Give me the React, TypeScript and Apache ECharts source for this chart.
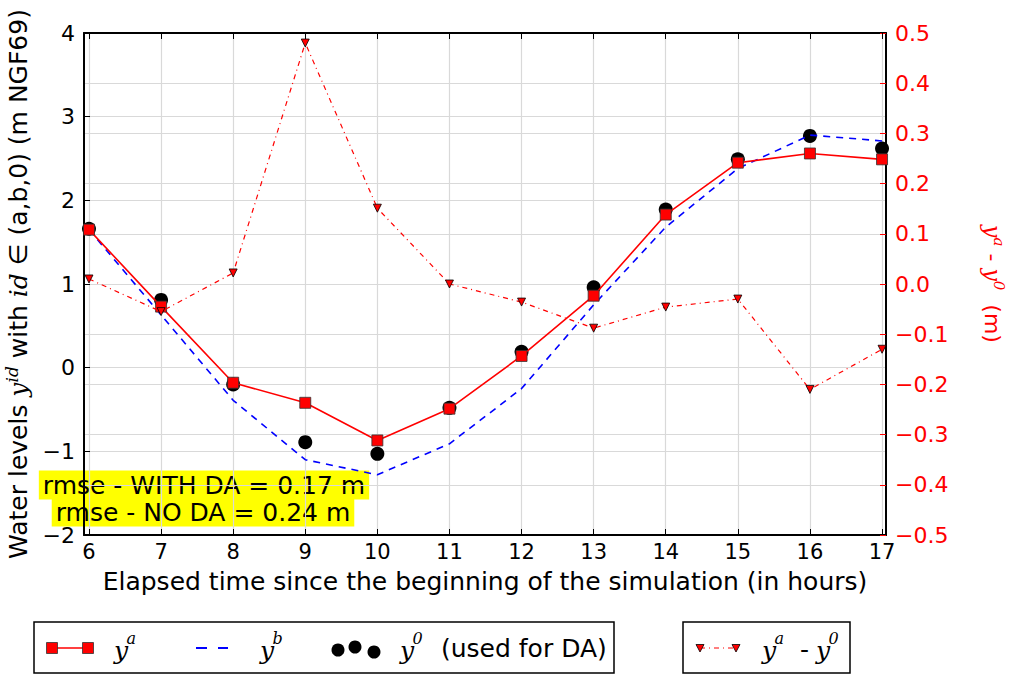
import React, { useEffect, useRef } from "react";
import * as echarts from "echarts";

const hours = [6, 7, 8, 9, 10, 11, 12, 13, 14, 15, 16, 17];
const yA = [1.65, 0.73, -0.18, -0.42, -0.87, -0.49, 0.14, 0.86, 1.83, 2.45, 2.56, 2.49];
const yB = [1.65, 0.63, -0.39, -1.1, -1.28, -0.91, -0.25, 0.75, 1.68, 2.38, 2.78, 2.71];
const y0 = [1.66, 0.81, -0.2, -0.89, -1.03, -0.48, 0.19, 0.96, 1.89, 2.49, 2.77, 2.62];
const diff = [0.01, -0.055, 0.022, 0.48, 0.151, 0.0, -0.036, -0.088, -0.046, -0.03, -0.21, -0.13];

const SANS = "DejaVu Sans";
const SERIF = "DejaVu Serif";
const GRIDC = "#d9d9d9";

const minus = (s: string) => s.replace("-", "\u2212");

function mathLabel(x: number, y: number, base: string, sup: string, color: string, size: number) {
  return [
    {
      type: "text",
      x,
      y,
      style: { text: base, fill: color, font: `italic ${size}px ${SERIF}`, textVerticalAlign: "middle", verticalAlign: "middle" },
    },
    {
      type: "text",
      x: x + size * 0.5,
      y: y - size * 0.45,
      style: { text: sup, fill: color, font: `italic ${Math.round(size * 0.65)}px ${SERIF}`, textVerticalAlign: "middle", verticalAlign: "middle" },
    },
  ];
}

export default function App() {
  const ref = useRef<HTMLDivElement>(null);
  useEffect(() => {
    if (!ref.current) return;
    const chart = echarts.init(ref.current, undefined, { renderer: "svg" });
    const tri = (cx: number, cy: number) => ({
      type: "polygon",
      shape: { points: [[cx - 4, cy - 3.5], [cx + 4, cy - 3.5], [cx, cy + 4]] },
      style: { fill: "#ff0000", stroke: "#000", lineWidth: 0.8 },
    });
    const graphic: any[] = [
      {
        type: "text",
        x: 204,
        y: 485,
        z: -10,
        style: {
          text: "rmse - WITH DA = 0.17 m",
          font: `25px ${SANS}`,
          fill: "#000",
          textAlign: "center",
          align: "center",
          textVerticalAlign: "middle",
          verticalAlign: "middle",
          backgroundColor: "#ffff00",
          padding: [3, 4, 1, 4],
        },
      },
      {
        type: "text",
        x: 203,
        y: 512,
        z: -11,
        style: {
          text: "rmse - NO DA = 0.24 m",
          font: `25px ${SANS}`,
          fill: "#000",
          textAlign: "center",
          align: "center",
          textVerticalAlign: "middle",
          verticalAlign: "middle",
          backgroundColor: "#ffff00",
          padding: [1, 4, 3, 4],
        },
      },
      // legend box 1
      { type: "rect", shape: { x: 34, y: 622, width: 580, height: 51 }, style: { fill: "#fff", stroke: "#000", lineWidth: 1.5 } },
      { type: "line", shape: { x1: 52, y1: 648, x2: 88, y2: 648 }, style: { stroke: "#ff0000", lineWidth: 1.5 } },
      { type: "rect", shape: { x: 46.5, y: 642.5, width: 11, height: 11 }, style: { fill: "#ff0000", stroke: "#333", lineWidth: 0.8 } },
      { type: "rect", shape: { x: 82.5, y: 642.5, width: 11, height: 11 }, style: { fill: "#ff0000", stroke: "#333", lineWidth: 0.8 } },
      ...mathLabel(114, 650, "y", "a", "#000", 25),
      { type: "line", shape: { x1: 196, y1: 648, x2: 207, y2: 648 }, style: { stroke: "#0000ff", lineWidth: 2 } },
      { type: "line", shape: { x1: 218, y1: 648, x2: 228, y2: 648 }, style: { stroke: "#0000ff", lineWidth: 2 } },
      ...mathLabel(260, 650, "y", "b", "#000", 25),
      { type: "circle", shape: { cx: 338, cy: 650, r: 6.5 }, style: { fill: "#000" } },
      { type: "circle", shape: { cx: 355, cy: 647, r: 6.5 }, style: { fill: "#000" } },
      { type: "circle", shape: { cx: 374, cy: 652, r: 6.5 }, style: { fill: "#000" } },
      ...mathLabel(400, 650, "y", "0", "#000", 25),
      {
        type: "text",
        x: 441,
        y: 648,
        style: { text: "(used for DA)", font: `25px ${SANS}`, fill: "#000", textVerticalAlign: "middle", verticalAlign: "middle" },
      },
      // legend box 2
      { type: "rect", shape: { x: 683, y: 622, width: 167, height: 51 }, style: { fill: "#fff", stroke: "#000", lineWidth: 1.5 } },
      { type: "line", shape: { x1: 700, y1: 648, x2: 736, y2: 648 }, style: { stroke: "#ff0000", lineWidth: 1, lineDash: [5, 4, 1, 4] } },
      tri(700, 648),
      tri(736, 648),
      ...mathLabel(762, 650, "y", "a", "#000", 25),
      {
        type: "text",
        x: 800,
        y: 649,
        style: { text: "-", font: `25px ${SANS}`, fill: "#000", textVerticalAlign: "middle", verticalAlign: "middle" },
      },
      ...mathLabel(816, 650, "y", "0", "#000", 25),
    ];

    const xBase = {
      type: "value",
      min: 5.931,
      max: 17.055,
    };

    const richFor = (color: string, size: number) => ({
      t: { fontFamily: SANS, fontSize: size, color, lineHeight: size + 6 },
      m: { fontFamily: SERIF, fontStyle: "italic", fontSize: size, color, lineHeight: size + 6 },
      s: { fontFamily: SERIF, fontStyle: "italic", fontSize: Math.round(size * 0.66), color, verticalAlign: "top", lineHeight: Math.round(size * 0.7) },
    });

    const option: any = {
      animation: false,
      backgroundColor: "#fff",
      grid: { left: 84, right: 123, top: 33, bottom: 140, containLabel: false, outerBoundsMode: "none" },
      xAxis: [
        {
          ...xBase,
          position: "bottom",
          name: "Elapsed time since the beginning of the simulation (in hours)",
          nameLocation: "middle",
          nameGap: 34,
          nameTextStyle: { fontFamily: SANS, fontSize: 25, color: "#000" },
          axisLine: { onZero: false, lineStyle: { color: "#000", width: 2 } },
          axisTick: { inside: true, length: 6, customValues: hours, lineStyle: { color: "#000", width: 1 } },
          axisLabel: { customValues: hours, fontFamily: SANS, fontSize: 21, color: "#000", margin: 6 },
          splitLine: { show: true, lineStyle: { color: GRIDC, width: 1.2 } },
        },
        {
          ...xBase,
          position: "top",
          axisLine: { onZero: false, lineStyle: { color: "#000", width: 2 } },
          axisTick: { inside: true, length: 6, customValues: hours, lineStyle: { color: "#000", width: 1 } },
          axisLabel: { show: false },
          splitLine: { show: false },
        },
      ],
      yAxis: [
        {
          type: "value",
          position: "left",
          min: -2,
          max: 4,
          interval: 1,
          name: "{t|Water levels }{m|y}{s|id}{t| with }{m|id}{t| \u2208 (a,b,0) (m NGF69)}",
          nameLocation: "middle",
          nameGap: 50,
          nameTextStyle: { color: "#000", fontFamily: SANS, fontSize: 25, rich: richFor("#000", 25) },
          axisLine: { show: true, onZero: false, lineStyle: { color: "#000", width: 2 } },
          axisTick: { show: true, inside: true, length: 6, lineStyle: { color: "#000", width: 1 } },
          axisLabel: {
            fontFamily: SANS,
            fontSize: 22,
            color: "#000",
            margin: 9,
            formatter: (v: number) => minus(String(Math.round(v))),
          },
          splitLine: { show: true, lineStyle: { color: GRIDC, width: 1.2 } },
        },
        {
          type: "value",
          position: "right",
          min: -0.5,
          max: 0.5,
          interval: 0.1,
          name: "{m|y}{s|a}{t| - }{m|y}{s|0}{t|  (m)}",
          nameLocation: "middle",
          nameGap: 92,
          nameRotate: -90,
          nameTextStyle: { color: "#ff0000", fontFamily: SANS, fontSize: 22, rich: richFor("#ff0000", 22) },
          axisLine: { show: true, onZero: false, lineStyle: { color: "#000", width: 2 } },
          axisTick: { show: true, inside: true, length: 6, lineStyle: { color: "#ff0000", width: 1 } },
          axisLabel: {
            fontFamily: SANS,
            fontSize: 22,
            color: "#ff0000",
            margin: 9,
            formatter: (v: number) => minus(v.toFixed(1)),
          },
          splitLine: { show: true, lineStyle: { color: GRIDC, width: 1.2 } },
        },
      ],
      series: [
        {
          name: "y0",
          type: "scatter",
          xAxisIndex: 0,
          yAxisIndex: 0,
          data: hours.map((h, i) => [h, y0[i]]),
          symbol: "circle",
          symbolSize: 14,
          itemStyle: { color: "#000", opacity: 1 },
          z: 2,
        },
        {
          name: "yb",
          type: "line",
          xAxisIndex: 0,
          yAxisIndex: 0,
          data: hours.map((h, i) => [h, yB[i]]),
          showSymbol: false,
          symbol: "none",
          lineStyle: { color: "#0000ff", width: 1.6, type: [7, 6] },
          z: 3,
        },
        {
          name: "ya",
          type: "line",
          xAxisIndex: 0,
          yAxisIndex: 0,
          data: hours.map((h, i) => [h, yA[i]]),
          symbol: "rect",
          symbolSize: 11,
          showAllSymbol: true,
          itemStyle: { color: "#ff0000", borderColor: "#333", borderWidth: 0.8 },
          lineStyle: { color: "#ff0000", width: 1.6 },
          z: 4,
        },
        {
          name: "diff",
          type: "line",
          xAxisIndex: 0,
          yAxisIndex: 1,
          data: hours.map((h, i) => [h, diff[i]]),
          symbol: "triangle",
          symbolRotate: 180,
          symbolSize: 8,
          showAllSymbol: true,
          itemStyle: { color: "#ff0000", borderColor: "#000", borderWidth: 0.8 },
          lineStyle: { color: "#ff0000", width: 1.2, type: [5, 4, 1, 4] },
          z: 5,
        },
      ],
      graphic,
    };
    chart.setOption(option);
    return () => chart.dispose();
  }, []);
  return <div ref={ref} style={{ width: 1009, height: 675, position: "absolute", left: 0, top: 0 }} />;
}
